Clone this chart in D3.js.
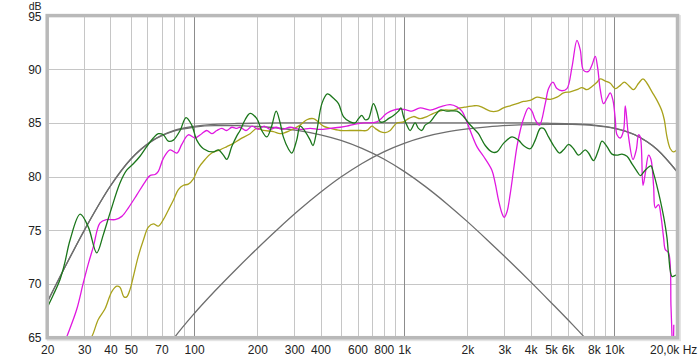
<!DOCTYPE html>
<html lang="en">
  <head>
    <meta charset="UTF-8" />
    <title>Frequency response</title>
    <script src="https://d3js.org/d3.v7.min.js"></script>
    <style>
      body {
        margin: 0;
        background: #fff;
      }
      text {
        font-family: "Liberation Sans", Arial, sans-serif;
        font-size: 12px;
        fill: #222;
      }
      .grid {
        stroke: #c6c6c6;
        stroke-width: 1;
      }
      .grid.decade {
        stroke: #8c8c8c;
      }
      .curve {
        fill: none;
        stroke-width: 1.3;
        stroke-linejoin: round;
      }
    </style>
  </head>
  <body>
    <svg width="700" height="359"></svg>

    <script>
      // Measured responses, [frequency Hz, level dB]
      const greenCurve = [
        [20, 67.8], [21.4, 69.0], [23, 70.4], [24.2, 71.9], [25.7, 74.1], [28.7, 76.5],
        [31.4, 75.3], [34.4, 72.9], [37, 74.6], [39.8, 76.6], [44.4, 79.4], [47.8, 80.6],
        [51.4, 81.2], [55.3, 81.9], [59.5, 82.8], [64, 83.6], [67.6, 84.0], [71.4, 83.9],
        [75.5, 83.3], [79.7, 83.4], [85.8, 84.3], [91.6, 85.5], [97.5, 84.8], [103, 83.4],
        [110.8, 82.6], [123.6, 82.3], [130.6, 82.5], [137.9, 82.0], [143.2, 81.6],
        [151.2, 82.8], [159.8, 83.8], [165.6, 84.3], [175, 85.3], [184.8, 85.9],
        [198.9, 85.4], [210, 84.3], [222, 83.7], [234, 84.7], [246, 86.1], [257, 85.0],
        [266, 83.7], [281, 82.6], [292, 82.2], [308, 83.4], [320, 84.7], [338, 84.2],
        [357, 83.4], [368, 82.9], [384, 84.3], [406, 86.8], [431, 87.7], [461, 87.3],
        [487, 86.8], [514, 85.6], [553, 85.1], [584, 85.0], [606, 85.4], [629, 85.7],
        [652, 85.3], [676, 85.4], [714, 86.8], [741, 86.1], [769, 85.1], [797, 85.1],
        [842, 85.4], [890, 85.7], [940, 86.1], [965, 86.4], [993, 85.6], [1030, 84.8],
        [1068, 84.3], [1128, 85.0], [1170, 84.5], [1214, 84.3], [1259, 84.8], [1330, 85.1],
        [1405, 85.7], [1484, 86.2], [1598, 86.1], [1783, 86.1], [1916, 85.6], [2024, 85.0],
        [2138, 84.5], [2258, 84.0], [2432, 82.9], [2616, 82.3], [2764, 82.3], [2970, 83.1],
        [3258, 83.7], [3502, 83.4], [3700, 82.9], [3982, 82.6], [4206, 83.4], [4444, 84.5],
        [4608, 84.5], [4868, 83.7], [5140, 82.9], [5490, 82.2], [5736, 82.5], [6060, 83.0],
        [6402, 82.6], [6762, 82.0], [7278, 82.5], [7546, 82.2], [7972, 81.5], [8420, 82.5],
        [8740, 83.3], [9234, 82.8], [9752, 82.1], [10304, 82.0], [10884, 82.1],
        [11498, 81.9], [12146, 81.2], [12830, 80.5], [13306, 80.1], [13900, 80.5],
        [14572, 80.9], [14958, 81.0], [15392, 80.3], [15976, 79.1], [16564, 77.8],
        [17174, 76.3], [17826, 74.3], [18142, 72.7], [18830, 70.7], [19522, 70.8],
        [19890, 70.85]
      ];

      const magentaCurve = [
        [23, 63.4], [24.8, 65.1], [27.6, 67.6], [29.7, 70.1], [31.4, 71.9], [33.2, 73.5],
        [35.7, 75.7], [38.4, 76.0], [42.1, 76.0], [45.3, 76.3], [48.7, 77.1], [53.4, 78.3],
        [58.4, 79.5], [61.7, 80.1], [65.2, 80.2], [67.6, 80.5], [71.4, 81.7], [76.9, 82.5],
        [82.8, 82.2], [87.4, 83.0], [93.9, 83.9], [101.1, 83.6], [108.8, 84.0],
        [114.9, 84.3], [121.4, 84.0], [128.3, 84.3], [135.5, 84.5], [143.2, 84.3],
        [151.2, 84.6], [159.8, 84.5], [165.6, 84.6], [176.8, 84.3], [188.9, 84.7],
        [201.8, 84.4], [215.6, 84.7], [230.2, 84.4], [245.8, 84.6], [262.6, 84.4],
        [286.6, 84.6], [319.8, 84.4], [356.8, 84.5], [398.2, 84.4], [444.4, 84.5],
        [496, 84.6], [533.6, 84.7], [584.4, 84.9], [640, 85.0], [741, 85.1], [827.6, 85.9],
        [890, 86.2], [957, 86.3], [1030, 86.2], [1088, 86.1], [1192, 86.4], [1330, 86.2],
        [1484, 86.5], [1656, 86.7], [1783, 86.5], [1883, 86.1], [1989, 85.1], [2062, 84.3],
        [2220, 82.8], [2386, 81.9], [2616, 80.6], [2712, 79.4], [2814, 77.8], [2920, 76.6],
        [2994, 76.2], [3084, 76.7], [3198, 78.4], [3316, 80.6], [3442, 82.8], [3568, 84.3],
        [3700, 85.4], [3908, 86.4], [4056, 86.1], [4206, 85.3], [4408, 84.8], [4694, 86.8],
        [4868, 88.2], [5106, 88.8], [5336, 88.2], [5636, 88.0], [5956, 88.2], [6292, 90.2],
        [6644, 92.7], [6890, 91.8], [7144, 89.9], [7546, 89.8], [7834, 90.4], [8122, 91.2],
        [8328, 90.2], [8578, 88.1], [8894, 86.8], [9234, 87.3], [9572, 87.8], [9860, 87.1],
        [10110, 85.4], [10304, 83.9], [10682, 83.6], [11074, 84.3], [11284, 86.6],
        [11698, 83.7], [12280, 81.6], [12732, 82.5], [13058, 83.9], [13306, 83.7],
        [13700, 79.2], [14050, 80.3], [14572, 82.0], [14958, 81.6], [15392, 79.1],
        [15680, 77.1], [16256, 77.4], [16690, 76.3], [17174, 74.3], [17500, 73.2],
        [18142, 72.9], [18622, 67.9], [18830, 65.1], [18994, 62.0], [19204, 66.2]
      ];

      const oliveCurve = [
        [30.3, 64.3], [32.6, 65.1], [35, 66.7], [37.7, 67.7], [40.6, 69.3], [42.9, 69.8],
        [44.4, 69.7], [46.4, 68.8], [47.8, 68.8], [49.6, 69.5], [51.4, 70.7], [54.3, 72.6],
        [57.4, 74.1], [60.6, 75.3], [64, 75.6], [67.6, 75.4], [71.4, 76.0], [75.5, 76.9],
        [79.7, 77.8], [84.2, 78.8], [89, 79.2], [93.9, 79.3], [99.3, 79.8], [104.9, 80.8],
        [112.8, 81.6], [121.4, 82.2], [133, 82.5], [143.2, 82.8], [153.9, 83.1],
        [165.6, 83.5], [184.8, 84.0], [198.9, 84.5], [213.8, 84.3], [238.6, 84.2],
        [256.9, 84.0], [286.6, 84.3], [319.8, 84.8], [344.2, 85.3], [370, 85.4],
        [390.8, 85.1], [412.8, 84.7], [444.4, 84.5], [496, 84.3], [553.4, 84.3],
        [617.4, 84.3], [664.4, 84.3], [702, 84.7], [727.8, 84.5], [769, 84.2], [812.2, 84.1],
        [858, 84.3], [923, 85.0], [993, 85.1], [1049, 85.4], [1108, 85.6], [1192, 85.4],
        [1283, 85.6], [1379, 85.9], [1539, 86.2], [1717, 86.2], [1848, 86.4], [1989, 86.5],
        [2138, 86.6], [2258, 86.6], [2386, 86.4], [2568, 86.1], [2764, 86.1], [2970, 86.4],
        [3198, 86.6], [3442, 86.8], [3700, 87.0], [3982, 87.1], [4286, 87.4], [4608, 87.3],
        [4960, 87.2], [5336, 87.4], [5736, 87.8], [6176, 87.9], [6644, 88.1], [7020, 88.3],
        [7414, 88.1], [7834, 88.4], [8276, 88.8], [8578, 89.1], [9064, 88.9], [9572, 88.7],
        [10110, 88.2], [10682, 88.5], [11162, 88.8], [11698, 88.5], [12362, 88.1],
        [13058, 88.7], [13700, 89.1], [14314, 88.7], [15122, 87.9], [15976, 87.1],
        [16876, 86.1], [17304, 85.3], [17826, 83.7], [18482, 82.6], [19162, 82.3],
        [19890, 82.5]
      ];

      // Target (simulated) responses, read at third-octave points
      const targetFreqs = [
        20, 25, 31.5, 40, 50, 63, 80, 100, 125, 160, 200, 250, 315, 400, 500, 630, 800,
        1000, 1250, 1600, 2000, 2500, 3150, 4000, 5000, 6300, 8000, 10000, 12500, 16000, 20000
      ];
      const totalDb = [
        68.3, 72.05, 75.74, 79.14, 81.64, 83.34, 84.29, 84.69, 84.87, 84.95, 84.98, 85.0,
        85.0, 85.0, 85.0, 85.0, 85.0, 85.0, 85.0, 85.0, 85.0, 85.0, 85.0, 85.0, 84.97,
        84.92, 84.8, 84.52, 83.91, 82.53, 80.42
      ];
      const lowDb = [
        68.31, 72.05, 75.73, 79.13, 81.62, 83.31, 84.24, 84.61, 84.75, 84.75, 84.67, 84.53,
        84.28, 83.89, 83.37, 82.63, 81.64, 80.49, 79.14, 77.46, 75.81, 74.06, 72.19, 70.2,
        68.28, 66.26, 64.08, 61.88, null, null, null
      ];
      const highDb = [
        null, null, null, null, 58.2, 61.9, 64.92, 67.23, 69.3, 71.45, 73.31, 75.1, 76.86,
        78.54, 79.96, 81.23, 82.31, 83.1, 83.7, 84.16, 84.44, 84.64, 84.77, 84.85, 84.88,
        84.86, 84.76, 84.5, 83.9, 82.52, 80.41
      ];

      const yTicks = [65, 70, 75, 80, 85, 90, 95];
      const gridFreqs = [
        30, 40, 50, 60, 70, 80, 90, 100, 200, 300, 400, 500, 600, 700, 800, 900,
        1000, 2000, 3000, 4000, 5000, 6000, 7000, 8000, 9000, 10000
      ];
      const decades = [100, 1000, 10000];
      const xLabels = [
        [20, "20"], [30, "30"], [40, "40"], [50, "50"], [70, "70"], [100, "100"],
        [200, "200"], [300, "300"], [400, "400"], [600, "600"], [800, "800"], [1000, "1k"],
        [2000, "2k"], [3000, "3k"], [4000, "4k"], [5000, "5k"], [6000, "6k"],
        [8000, "8k"], [10000, "10k"]
      ];

      const svg = d3.select("svg");

      const x = d3.scaleLog().domain([20, 20000]).range([47.2, 677.5]);
      const y = d3.scaleLinear().domain([65, 95]).range([337.7, 15.6]);

      const pLeft = x(20), pRight = x(20000), pTop = y(95), pBottom = y(65);

      svg.append("defs").append("clipPath").attr("id", "plot")
        .append("rect")
        .attr("x", pLeft).attr("y", pTop)
        .attr("width", pRight - pLeft).attr("height", pBottom - pTop);

      // frame shadow
      svg.append("rect")
        .attr("x", pLeft + 1.5).attr("y", pTop + 1.5)
        .attr("width", pRight - pLeft).attr("height", pBottom - pTop)
        .attr("fill", "none").attr("stroke", "#e4e4e4").attr("stroke-width", 4);

      svg.append("rect")
        .attr("x", pLeft).attr("y", pTop)
        .attr("width", pRight - pLeft).attr("height", pBottom - pTop)
        .attr("fill", "#fff");

      // grid
      const grid = svg.append("g");
      grid.selectAll(".hline")
        .data(yTicks.filter(d => d > 65 && d < 95))
        .join("line")
        .attr("class", "grid")
        .attr("x1", pLeft).attr("x2", pRight)
        .attr("y1", d => Math.round(y(d)) + 0.5).attr("y2", d => Math.round(y(d)) + 0.5);

      grid.selectAll(".vline")
        .data(gridFreqs)
        .join("line")
        .attr("class", d => decades.includes(d) ? "grid decade" : "grid")
        .attr("x1", d => Math.round(x(d)) + 0.5).attr("x2", d => Math.round(x(d)) + 0.5)
        .attr("y1", pTop).attr("y2", pBottom);

      // curves
      const plot = svg.append("g").attr("clip-path", "url(#plot)");

      const line = d3.line()
        .x(d => x(d[0]))
        .y(d => y(d[1]))
        .curve(d3.curveCatmullRom.alpha(0.5));

      const targetLine = d3.line()
        .defined(d => d[1] !== null)
        .x(d => x(d[0]))
        .y(d => y(d[1]))
        .curve(d3.curveMonotoneX);

      [lowDb, highDb, totalDb].forEach(series => {
        plot.append("path")
          .datum(targetFreqs.map((f, i) => [f, series[i]]))
          .attr("class", "curve")
          .attr("stroke", "#6e6e6e")
          .attr("stroke-width", 1.4)
          .attr("d", targetLine);
      });

      const measured = [
        [oliveCurve, "#a9a21c"],
        [magentaCurve, "#e018e0"],
        [greenCurve, "#1b761b"]
      ];
      measured.forEach(([data, color]) => {
        plot.append("path")
          .datum(data)
          .attr("class", "curve")
          .attr("stroke", color)
          .attr("d", line);
      });

      // frame border
      svg.append("rect")
        .attr("x", pLeft).attr("y", pTop)
        .attr("width", pRight - pLeft).attr("height", pBottom - pTop)
        .attr("fill", "none").attr("stroke", "#b9b9b9").attr("stroke-width", 3.5);

      // y labels ("95" sits a little low so it clears the unit label)
      svg.append("g").selectAll("text")
        .data(yTicks)
        .join("text")
        .attr("x", 41.5)
        .attr("y", d => y(d) + (d === 95 ? 5.8 : 4.4))
        .attr("text-anchor", "end")
        .text(d => d);

      svg.append("text")
        .attr("x", 41.5).attr("y", 9.6)
        .attr("text-anchor", "end")
        .style("font-size", "10.5px")
        .text("dB");

      // x labels
      svg.append("g").selectAll("text")
        .data(xLabels)
        .join("text")
        .attr("x", d => x(d[0]) + 0.5)
        .attr("y", 353.5)
        .attr("text-anchor", "middle")
        .text(d => d[1]);

      svg.append("text")
        .attr("x", 650).attr("y", 353.5)
        .text("20,0k Hz");
    </script>
  </body>
</html>
